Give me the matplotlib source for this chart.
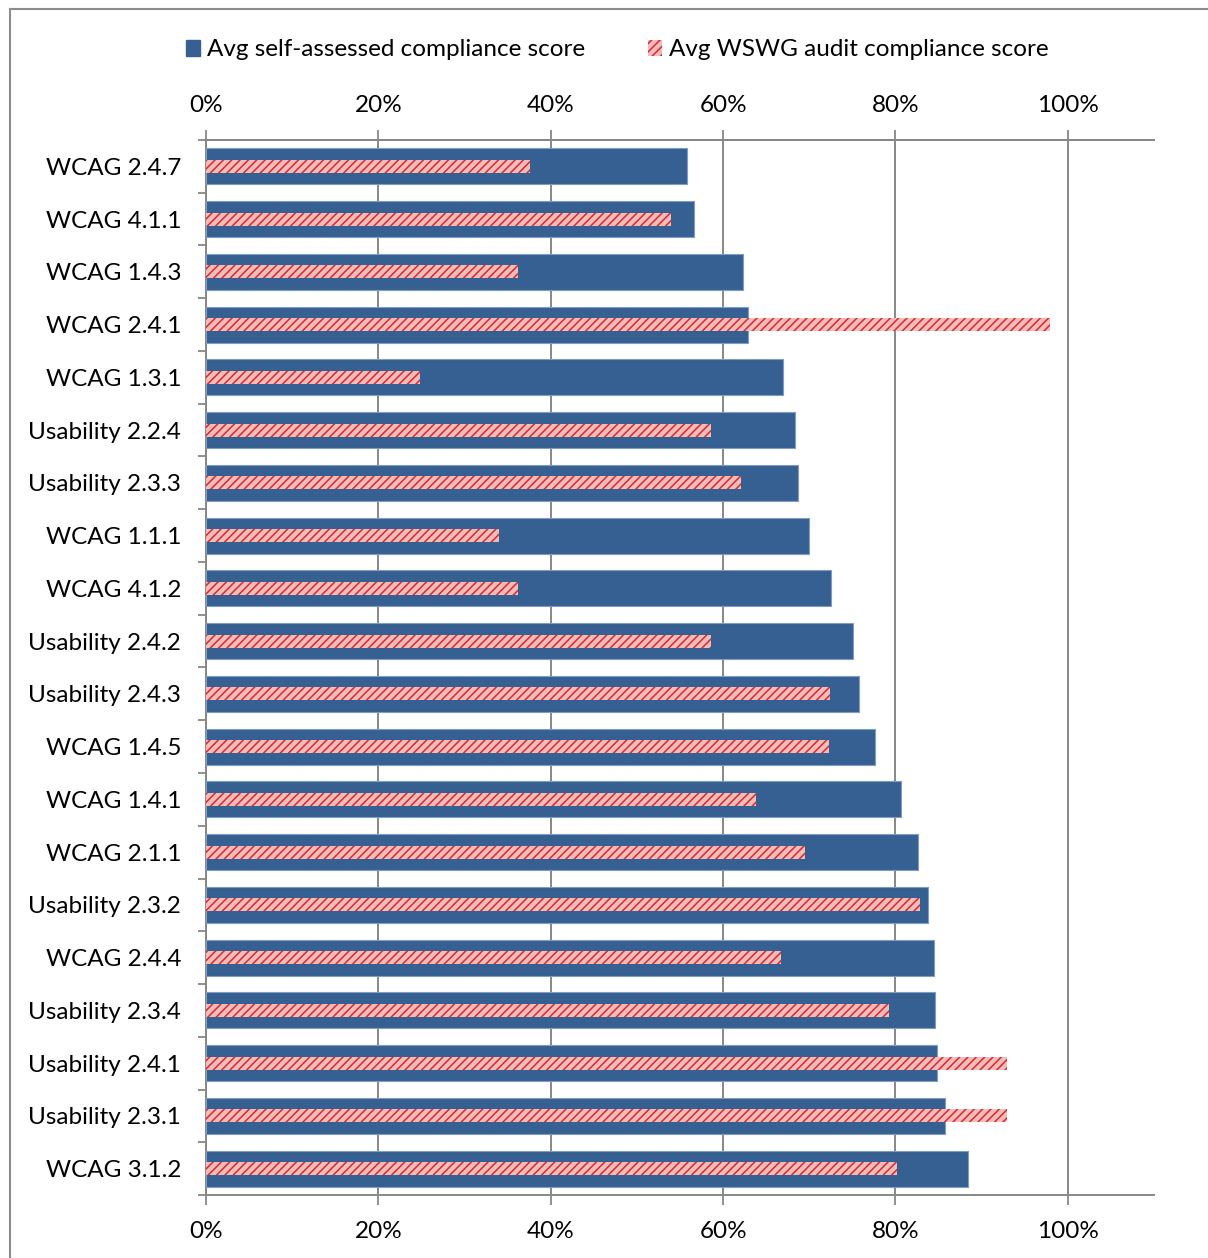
import matplotlib

matplotlib.use("Agg")

import matplotlib.pyplot as plt  # noqa: E402
from matplotlib.lines import Line2D  # noqa: E402
from matplotlib.patches import Patch  # noqa: E402
from matplotlib.ticker import FixedLocator, PercentFormatter  # noqa: E402

categories = [
    "WCAG 2.4.7", "WCAG 4.1.1", "WCAG 1.4.3", "WCAG 2.4.1", "WCAG 1.3.1",
    "Usability 2.2.4", "Usability 2.3.3", "WCAG 1.1.1", "WCAG 4.1.2",
    "Usability 2.4.2", "Usability 2.4.3", "WCAG 1.4.5", "WCAG 1.4.1",
    "WCAG 2.1.1", "Usability 2.3.2", "WCAG 2.4.4", "Usability 2.3.4",
    "Usability 2.4.1", "Usability 2.3.1", "WCAG 3.1.2",
]
self_assessed = [
    55.8, 56.6, 62.3, 62.9, 66.9, 68.3, 68.7, 70.0, 72.5, 75.1,
    75.8, 77.6, 80.6, 82.6, 83.8, 84.5, 84.6, 84.8, 85.8, 88.4,
]
wswg_audit = [
    37.6, 53.9, 36.2, 97.9, 24.8, 58.6, 62.1, 34.0, 36.2, 58.6,
    72.4, 72.3, 63.8, 69.5, 82.8, 66.7, 79.2, 93.0, 93.0, 80.2,
]
x_ticks = [0, 20, 40, 60, 80, 100]

BLUE = "#376092"
PINK = "#f2bcbc"
RED = "#d92a2a"
GRID = "#878787"

plt.rcParams["font.family"] = ["Lato", "DejaVu Sans"]
plt.rcParams["hatch.linewidth"] = 1.1

W, H = 1208, 1258
fig = plt.figure(figsize=(W / 100, H / 100), dpi=100)
ax = fig.add_axes([206 / W, 1 - 1195 / H, (1154 - 206) / W, (1195 - 140) / H])

y = list(range(len(categories)))
ax.barh(y, self_assessed, height=0.68, color=BLUE, edgecolor="#7f9cc4",
        linewidth=0.8, zorder=3)
ax.barh(y, wswg_audit, height=0.25, color=PINK, edgecolor=RED, hatch="////",
        linewidth=0, zorder=4)

ax.set_xlim(0, 110)
ax.set_ylim(len(categories) - 0.5, -0.5)

pct = PercentFormatter(decimals=0)
ax.xaxis.set_major_locator(FixedLocator(x_ticks))
ax.xaxis.set_major_formatter(pct)
ax.tick_params(axis="x", which="major", direction="out", length=7, width=1.3,
               color=GRID, labelsize=17.5, pad=12)
ax.grid(axis="x", color=GRID, linewidth=1.4, zorder=0)

# top percentage scale, same ticks
top = ax.secondary_xaxis("top")
top.xaxis.set_major_locator(FixedLocator(x_ticks))
top.xaxis.set_major_formatter(pct)
top.tick_params(direction="out", length=7, width=1.3, color=GRID,
                labelsize=17.5, pad=10)
top.spines["top"].set_color(GRID)
top.spines["top"].set_linewidth(1.4)

ax.set_yticks(y)
ax.set_yticklabels(categories)
ax.set_yticks([i - 0.5 for i in range(len(categories) + 1)], minor=True)
ax.tick_params(axis="y", which="major", length=0, labelsize=17.5, pad=18)
ax.tick_params(axis="y", which="minor", direction="out", length=6, width=1.3,
               color=GRID)

for side in ("top", "bottom", "left"):
    ax.spines[side].set_color(GRID)
    ax.spines[side].set_linewidth(1.4)
ax.spines["right"].set_visible(False)
ax.set_axisbelow(True)

handles = [
    Patch(facecolor=BLUE, edgecolor=BLUE, label="Avg self-assessed compliance score"),
    Patch(facecolor=PINK, edgecolor=RED, hatch="////", linewidth=0,
          label="Avg WSWG audit compliance score"),
]
fig.legend(handles=handles, loc="center", bbox_to_anchor=(617 / W, 1 - 50 / H),
           ncol=2, frameon=False, fontsize=17.5, handlelength=0.6,
           handleheight=0.6, handletextpad=0.25, columnspacing=2.6)

# outer chart frame (cropped on right and bottom)
bx, by = 10 / W, 1 - 9 / H
fig.add_artist(Line2D([bx, bx], [0, by], transform=fig.transFigure,
                      color="#8c8c8c", linewidth=1.5))
fig.add_artist(Line2D([bx, 1], [by, by], transform=fig.transFigure,
                      color="#8c8c8c", linewidth=1.5))

fig.savefig("out.png", dpi=100)
